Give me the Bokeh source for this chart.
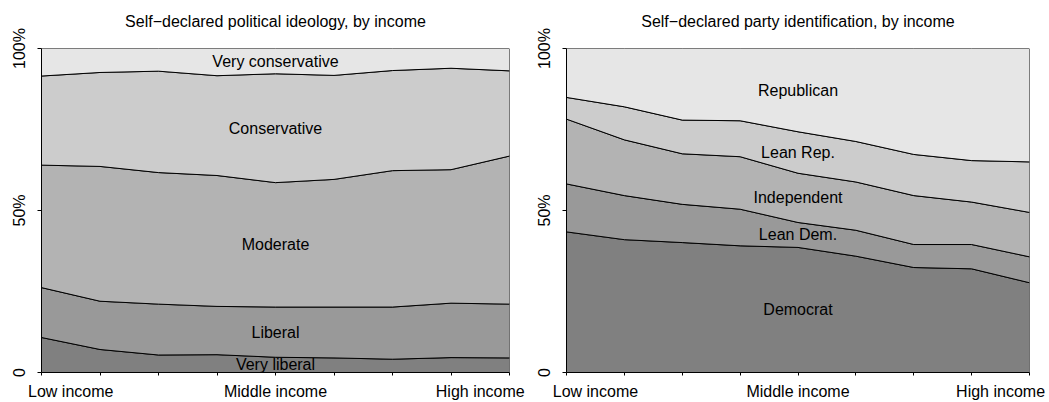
from bokeh.plotting import figure
from bokeh.layouts import row
from bokeh.models import Range1d, FixedTicker, LinearAxis
from bokeh.embed import file_html
from bokeh.resources import INLINE
from bokeh.core.properties import value

# ---------------- data ----------------
income_steps = [1, 2, 3, 4, 5, 6, 7, 8, 9]
x_tick_pos = [1.5, 5, 8.5]
x_tick_labels = ["Low income", "Middle income", "High income"]
y_ticks = [0, 50, 100]
y_tick_labels = ["0", "50%", "100%"]
label_x = 5  # income step where band names are written

title_left = "Self\u2212declared political ideology, by income"
title_right = "Self\u2212declared party identification, by income"

# shares (%) bottom -> top
ideology_names = ["Very liberal", "Liberal", "Moderate", "Conservative", "Very conservative"]
very_liberal = [10.8, 7.1, 5.4, 5.5, 4.7, 4.5, 4.1, 4.6, 4.5]
liberal = [15.4, 14.9, 15.7, 14.9, 15.5, 15.7, 16.1, 16.8, 16.6]
moderate = [37.8, 41.6, 40.6, 40.4, 38.4, 39.4, 42.1, 41.2, 45.7]
conservative = [27.5, 29.0, 31.3, 30.8, 33.6, 32.1, 30.9, 31.3, 26.3]
very_conservative = [8.5, 7.4, 7.0, 8.4, 7.8, 8.3, 6.8, 6.1, 6.9]

party_names = ["Democrat", "Lean Dem.", "Independent", "Lean Rep.", "Republican"]
democrat = [43.4, 41.0, 40.1, 39.1, 38.6, 35.9, 32.4, 32.0, 27.7]
lean_dem = [14.8, 13.6, 11.8, 11.3, 7.7, 8.0, 7.1, 7.5, 8.0]
independent = [20.0, 17.2, 15.6, 16.2, 15.2, 14.9, 15.1, 13.1, 13.7]
lean_rep = [6.7, 10.2, 10.4, 11.1, 12.8, 12.5, 12.7, 12.8, 15.6]
republican = [15.1, 18.0, 22.1, 22.3, 25.7, 28.7, 32.7, 34.6, 35.0]

band_colors = ["#808080", "#999999", "#b3b3b3", "#cccccc", "#e6e6e6"]

FONT = "Liberation Sans"


def make_panel(title, names, series, border_left, frame_w, border_right):
    W = border_left + frame_w + border_right
    p = figure(width=W, height=402, output_backend="svg", toolbar_location=None,
               title=None,
               x_range=Range1d(1, 9), y_range=Range1d(0, 100),
               min_border_left=border_left, min_border_right=border_right,
               min_border_top=48, min_border_bottom=29)
    p.grid.visible = False
    p.outline_line_color = None
    p.background_fill_color = "white"
    p.border_fill_color = "white"

    bottom = [0.0] * len(income_steps)
    mids = []
    for vals, col in zip(series, band_colors):
        top = [b + v for b, v in zip(bottom, vals)]
        xs = income_steps + income_steps[::-1]
        ys = top + bottom[::-1]
        p.patch(xs, ys, fill_color=col, line_color="black", line_width=1)
        i = income_steps.index(label_x)
        mids.append((top[i] + bottom[i]) / 2)
        bottom = top

    p.text(x=[label_x] * len(names), y=mids, text=names,
           text_align="center", text_baseline="middle",
           text_font=value(FONT), text_font_size="16px", text_color="black")

    # bottom axis: tick marks at every income step, labels at 1.5 / 5 / 8.5
    xa = p.xaxis[0]
    xa.ticker = FixedTicker(ticks=x_tick_pos, minor_ticks=income_steps)
    xa.major_label_overrides = {t: l for t, l in zip(x_tick_pos, x_tick_labels)}
    xa.major_label_text_font = FONT
    xa.major_label_text_font_size = "16px"
    xa.major_label_text_color = "black"
    xa.major_label_standoff = 7
    xa.major_tick_line_color = None
    xa.major_tick_out = 0
    xa.major_tick_in = 0
    xa.minor_tick_out = 3
    xa.minor_tick_in = 0
    xa.minor_tick_line_color = "black"
    xa.axis_line_color = "black"

    # top axis used only to carry the panel title
    ta = LinearAxis(ticker=FixedTicker(ticks=[]), axis_label=title,
                    axis_label_standoff=19,
                    axis_label_text_font=FONT, axis_label_text_font_size="16px",
                    axis_label_text_font_style="normal", axis_label_text_color="black",
                    axis_line_color=None, major_tick_line_color=None,
                    minor_tick_line_color=None, major_tick_out=0, major_tick_in=0,
                    minor_tick_out=0, minor_tick_in=0, major_label_standoff=0)
    p.add_layout(ta, "above")

    ya = p.yaxis[0]
    ya.ticker = FixedTicker(ticks=y_ticks)
    ya.major_label_overrides = {t: l for t, l in zip(y_ticks, y_tick_labels)}
    ya.major_label_orientation = "vertical"
    ya.major_label_text_font = FONT
    ya.major_label_text_font_size = "16px"
    ya.major_label_text_color = "black"
    ya.major_label_standoff = 10
    ya.major_tick_out = 4
    ya.major_tick_in = 0
    ya.minor_tick_line_color = None
    ya.axis_line_color = "black"
    ya.major_tick_line_color = "black"
    return p


left = make_panel(title_left, ideology_names,
                  [very_liberal, liberal, moderate, conservative, very_conservative],
                  41, 468, 16)
right = make_panel(title_right, party_names,
                   [democrat, lean_dem, independent, lean_rep, republican],
                   41, 463, 20)

layout = row(left, right, spacing=0)
open("out.html", "w").write(file_html(layout, INLINE))
